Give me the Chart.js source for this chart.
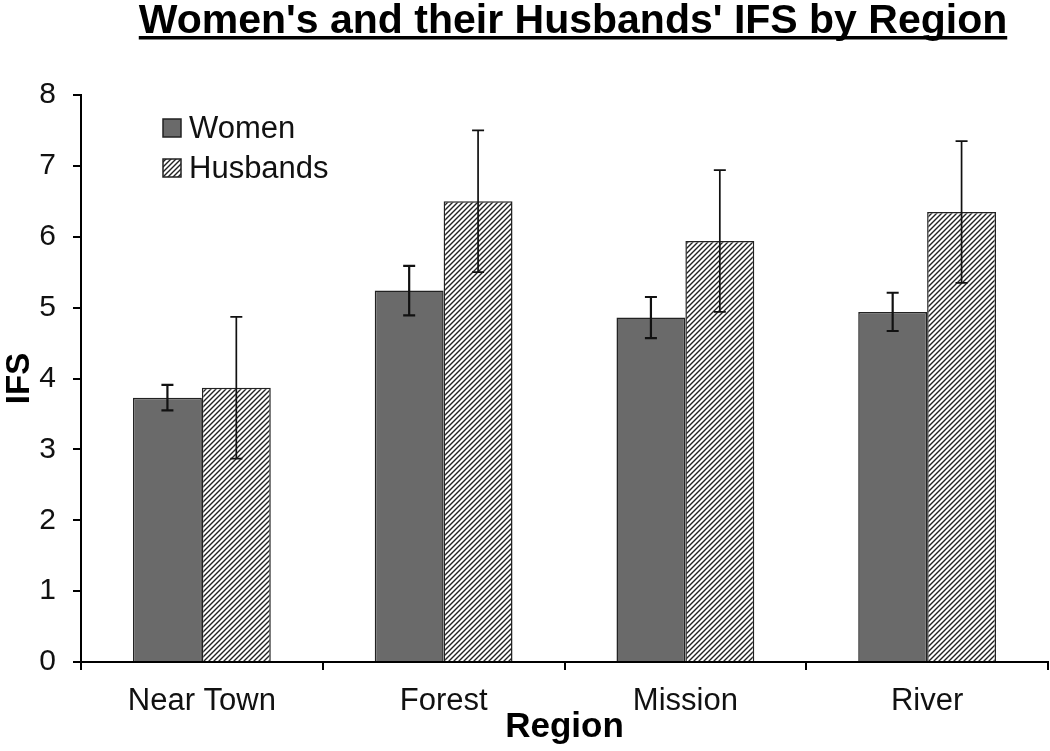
<!DOCTYPE html>
<html>
<head>
<meta charset="utf-8">
<script src="https://cdn.jsdelivr.net/npm/chart.js@4"></script>
<style>
  html, body { margin: 0; padding: 0; background: #fff; }
  #wrap { width: 1050px; height: 751px; }
</style>
</head>
<body>
<div id="wrap"><canvas id="ifsChart" width="1050" height="751"></canvas></div>
<script>
// data
const chartTitle = "Women's and their Husbands' IFS by Region";
const regions = ['Near Town', 'Forest', 'Mission', 'River'];
const womenIFS = [3.73, 5.24, 4.86, 4.94];
const womenErr = [0.18, 0.35, 0.29, 0.27];
const husbandsIFS = [3.87, 6.50, 5.94, 6.35];
const husbandsErr = [1.0, 1.0, 1.0, 1.0];
const yMin = 0;
const yMax = 8;
const yStep = 1;

const FONT = "'Liberation Sans', Arial, sans-serif";

// diagonal hatch for the husbands bars
function makeHatch() {
    const s = 5;
    const c = document.createElement('canvas');
    c.width = s; c.height = s;
    const g = c.getContext('2d');
    g.fillStyle = '#fff';
    g.fillRect(0, 0, s, s);
    g.strokeStyle = '#222';
    g.lineWidth = 1.4;
    g.beginPath();
    g.moveTo(0, s); g.lineTo(s, 0);
    g.moveTo(-1, 1); g.lineTo(1, -1);
    g.moveTo(s - 1, s + 1); g.lineTo(s + 1, s - 1);
    g.stroke();
    return g.createPattern(c, 'repeat');
}

const hatch = makeHatch();

// error bars drawn over the bars
const errorBars = {
    id: 'errorBars',
    afterDatasetsDraw(chart) {
        const ctx = chart.ctx;
        const y = chart.scales.y;
        ctx.save();
        ctx.strokeStyle = '#111';
        chart.data.datasets.forEach((ds, di) => {
            const meta = chart.getDatasetMeta(di);
            ctx.lineWidth = di === 0 ? 2.2 : 1.7;
            meta.data.forEach((bar, i) => {
                const v = ds.data[i];
                const e = ds.errors[i];
                const top = y.getPixelForValue(v + e);
                const bot = y.getPixelForValue(v - e);
                const cap = 6;
                ctx.beginPath();
                ctx.moveTo(bar.x, top); ctx.lineTo(bar.x, bot);
                ctx.moveTo(bar.x - cap, top); ctx.lineTo(bar.x + cap, top);
                ctx.moveTo(bar.x - cap, bot); ctx.lineTo(bar.x + cap, bot);
                ctx.stroke();
            });
        });
        ctx.restore();
    }
};

// legend inside the plot, top left
const insideLegend = {
    id: 'insideLegend',
    afterDraw(chart) {
        const ctx = chart.ctx;
        const x0 = chart.chartArea.left + 82;
        let yc = chart.chartArea.top + 33;
        ctx.save();
        ctx.font = '31px ' + FONT;
        ctx.textBaseline = 'middle';
        chart.data.datasets.forEach(ds => {
            ctx.fillStyle = ds.backgroundColor;
            ctx.fillRect(x0, yc - 9, 18, 18);
            ctx.strokeStyle = '#222';
            ctx.lineWidth = 1.5;
            ctx.strokeRect(x0, yc - 9, 18, 18);
            ctx.fillStyle = '#111';
            ctx.fillText(ds.label, x0 + 26, yc + 1);
            yc += 40;
        });
        ctx.restore();
    }
};

// bold underlined title at the top
const underlinedTitle = {
    id: 'underlinedTitle',
    afterDraw(chart) {
        const ctx = chart.ctx;
        ctx.save();
        ctx.font = 'bold 41px ' + FONT;
        ctx.fillStyle = '#000';
        ctx.textAlign = 'center';
        ctx.textBaseline = 'alphabetic';
        const cx = 573;
        ctx.fillText(chartTitle, cx, 33);
        const w = ctx.measureText(chartTitle).width;
        ctx.fillRect(cx - w / 2, 36, w, 3.5);
        ctx.restore();
    }
};

new Chart(document.getElementById('ifsChart'), {
    type: 'bar',
    data: {
        labels: regions,
        datasets: [{
            label: 'Women',
            data: womenIFS,
            errors: womenErr,
            backgroundColor: '#6a6a6a',
            borderColor: '#222',
            borderWidth: 1.5,
            categoryPercentage: 0.57,
            barPercentage: 1.0
        }, {
            label: 'Husbands',
            data: husbandsIFS,
            errors: husbandsErr,
            backgroundColor: hatch,
            borderColor: '#222',
            borderWidth: 1.5,
            categoryPercentage: 0.57,
            barPercentage: 1.0
        }]
    },
    options: {
        responsive: false,
        animation: false,
        layout: { padding: { top: 95, right: 2, left: 0, bottom: 0 } },
        plugins: {
            legend: { display: false },
            tooltip: { enabled: false },
            title: { display: false }
        },
        scales: {
            x: {
                afterFit(scale) { scale.height = 89; },
                grid: {
                    offset: true,
                    drawOnChartArea: false,
                    drawTicks: true,
                    tickLength: 8,
                    color: '#000',
                    lineWidth: 2
                },
                border: { display: true, color: '#000', width: 2 },
                ticks: {
                    color: '#111',
                    padding: 13,
                    font: { family: FONT, size: 31 }
                },
                title: {
                    display: true,
                    text: 'Region',
                    color: '#000',
                    font: { family: FONT, size: 35, weight: 'bold', lineHeight: 1.2 },
                    padding: { top: 0, bottom: 3 }
                }
            },
            y: {
                min: yMin,
                max: yMax,
                afterFit(scale) { scale.width = 81; },
                grid: {
                    drawOnChartArea: false,
                    drawTicks: true,
                    tickLength: 8,
                    color: '#000',
                    lineWidth: 2
                },
                border: { display: true, color: '#000', width: 2 },
                ticks: {
                    stepSize: yStep,
                    color: '#111',
                    padding: 17,
                    font: { family: FONT, size: 30 }
                },
                title: {
                    display: true,
                    text: 'IFS',
                    color: '#000',
                    font: { family: FONT, size: 33, weight: 'bold', lineHeight: 1.2 },
                    padding: { top: 0, bottom: 0 }
                }
            }
        }
    },
    plugins: [errorBars, insideLegend, underlinedTitle]
});
</script>
</body>
</html>
